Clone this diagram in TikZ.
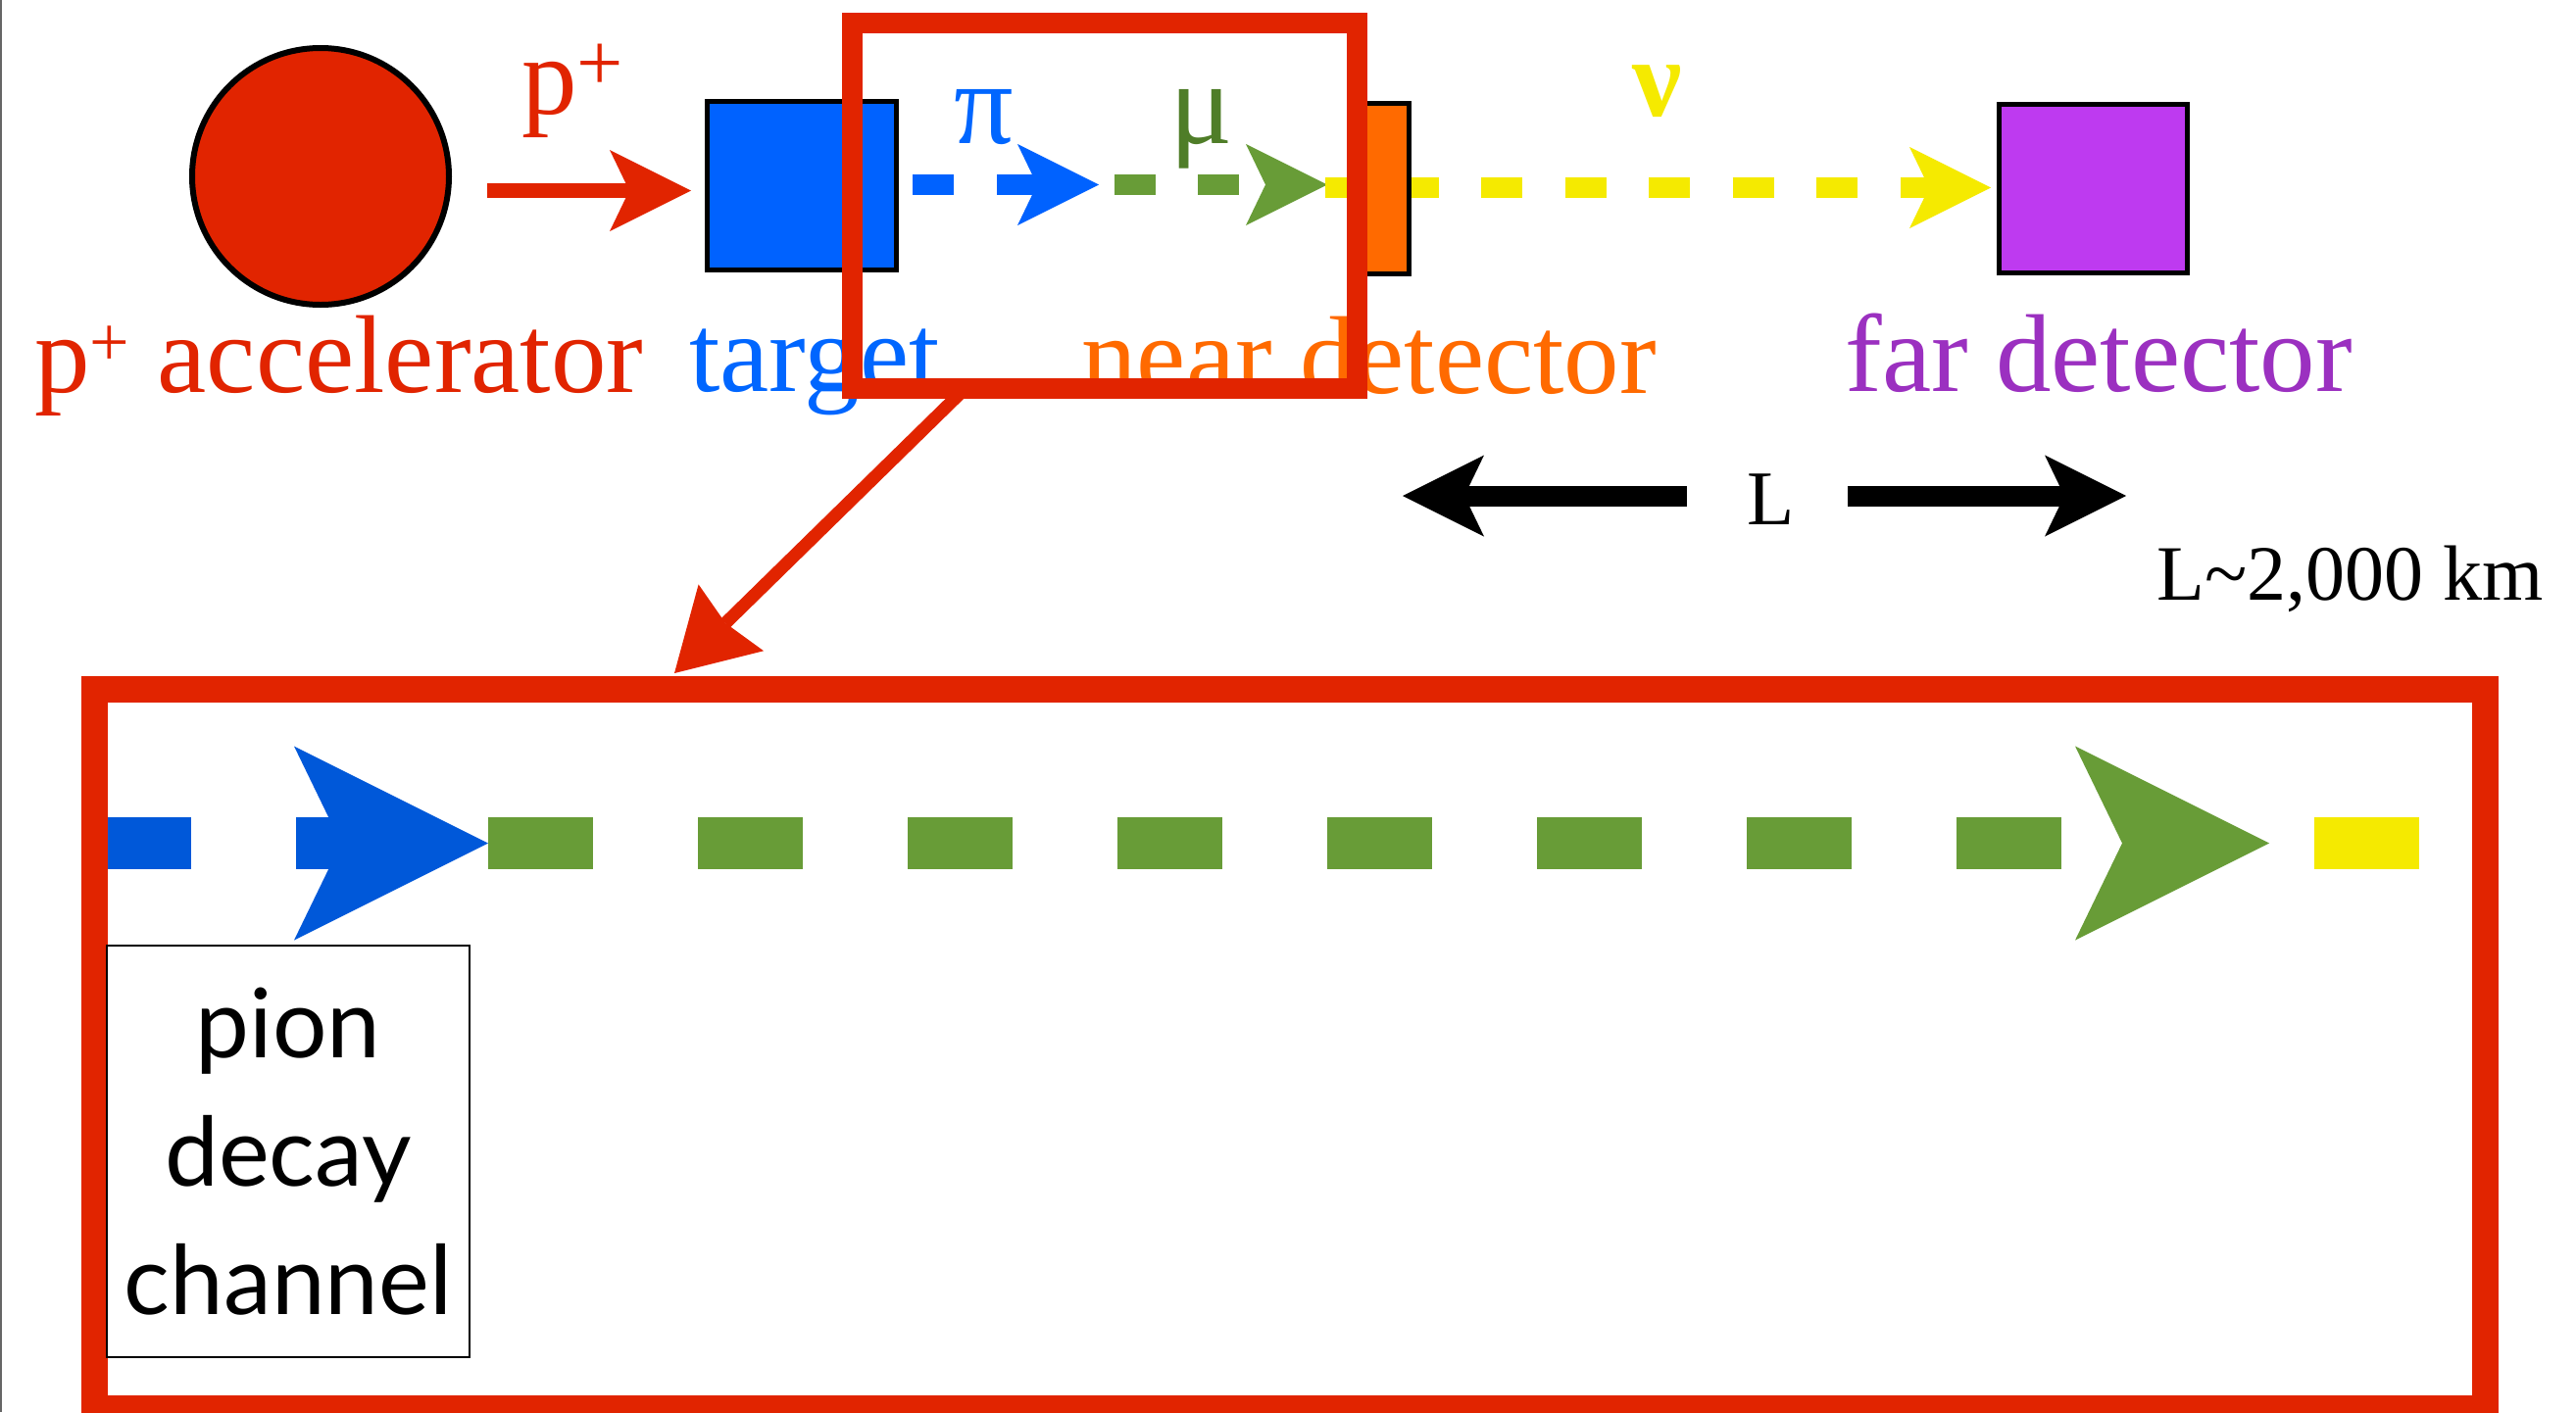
\documentclass[tikz,border=0pt]{standalone}
\usepackage{fontspec}
\setmainfont{Liberation Serif}
\newfontfamily\gillfont{Lato}
\usetikzlibrary{arrows.meta}
\definecolor{cred}{HTML}{E12400}
\definecolor{cblue}{HTML}{0062FF}
\definecolor{cbluetxt}{HTML}{0066FF}
\definecolor{cbluedark}{HTML}{0058D9}
\definecolor{cgreen}{HTML}{689C37}
\definecolor{cgreentxt}{HTML}{4F7D28}
\definecolor{cyellow}{HTML}{F5EA00}
\definecolor{corange}{HTML}{FF6A00}
\definecolor{cpurple}{HTML}{BE3AF0}
\definecolor{cpurpletxt}{HTML}{9B30C0}
\newcommand\supplus{\raisebox{12pt}{\fontsize{42}{42}\selectfont +}}
\newcommand\supplussmall{\raisebox{13.5pt}{\fontsize{36}{36}\selectfont +}}
\begin{document}
\begin{tikzpicture}[x=0.5pt,y=-0.5pt,
  lbl/.style={anchor=base west, inner sep=0pt, font=\fontsize{56.5}{60}\selectfont},
  dev/.style={draw=black, line width=2.5pt, inner sep=0pt},
  smallhead/.style={-{Stealth[length=41.5pt,width=41.5pt,inset=10pt,line width=0pt]}},
  bighead/.style={-{Stealth[length=99pt,width=99pt,inset=24pt,line width=0pt]}},
  topconn/.style={line width=10.5pt, smallhead},
  bigconn/.style={line width=26.5pt, bighead, dash pattern=on 53.5pt off 53.5pt},
  frame/.style={draw=cred, inner sep=0pt}
]
\useasboundingbox (0,0) rectangle (2628,1441);
\fill[white] (0,0) rectangle (2628,1441);
\draw[black!60, line width=1pt] (1,0) -- (1,1441);

% devices
\node[circle, draw=black, line width=3pt, fill=cred, minimum size=131pt, inner sep=0pt] (acc) at (327,180) {};
\node[dev, fill=cblue, minimum width=96.5pt, minimum height=86pt] (target) at (818,189.5) {};

% top connectors
\coordinate (p1) at (497,194.5);
\coordinate (p2) at (705,194.5);
\draw[cred, line width=7.5pt, smallhead] (p1) -- (p2);

\coordinate (pi1) at (931,188.5);
\coordinate (pi2) at (1121,188.5);
\draw[topconn, cblue, dash pattern=on 21pt off 22pt] (pi1) -- (pi2);

\coordinate (mu1) at (1137,188.5);
\coordinate (mu2) at (1354,188.5);
\draw[topconn, cgreen, dash pattern=on 21pt off 21.5pt] (mu1) -- (mu2);

\coordinate (nu1) at (1352,191.5);
\coordinate (nu2) at (2031,191.5);
\draw[topconn, cyellow, dash pattern=on 21pt off 21.75pt, dash phase=6pt] (nu1) -- (nu2);

\node[dev, fill=corange, minimum width=27.5pt, minimum height=87pt] (near) at (1410,192.5) {};
\node[dev, fill=cpurple, minimum width=96pt, minimum height=86pt] (far) at (2135.5,192.5) {};

% labels
\node[lbl, text=cred] (acclbl) at (35,400) {p\supplussmall{} accelerator};
\node[lbl, text=cbluetxt] (tgtlbl) at (703,399) {target};
\node[lbl, text=corange] (nearlbl) at (1103,401) {near detector};
\node[lbl, text=cpurpletxt] (farlbl) at (1882,399) {far detector};
\node[lbl, text=cred] (plbl) at (532,116) {p\supplus};
\node[lbl, text=cbluetxt, font=\fontsize{60}{60}\selectfont] (pilbl) at (973,146) {π};
\node[lbl, text=cgreentxt, font=\fontsize{60}{60}\selectfont] (mulbl) at (1193,146) {μ};
\node[lbl, text=cyellow, font=\fontsize{56.5}{60}\selectfont\bfseries] (nulbl) at (1665,118) {ν};

% baseline length
\node[anchor=base west, inner sep=0pt, font=\fontsize{39.5}{40}\selectfont] (Llbl) at (1782,535) {L};
\coordinate (La1) at (1721,506);
\coordinate (La2) at (1431,506);
\coordinate (Lb1) at (1885,506);
\coordinate (Lb2) at (2169,506);
\draw[black, line width=10.5pt, smallhead] (La1) -- (La2);
\draw[black, line width=10.5pt, smallhead] (Lb1) -- (Lb2);
\node[anchor=base west, inner sep=0pt, font=\fontsize{40}{42}\selectfont] (Ldist) at (2200,612) {L\textasciitilde2,000 km};

% zoom frame
\node[frame, line width=10.5pt, minimum width=257.5pt, minimum height=186.5pt] (zoombox) at (1127,210) {};

% enlarged view
\coordinate (b1) at (88,860.5);
\coordinate (b2) at (498,860.5);
\draw[bigconn, cbluedark] (b1) -- (b2);
\coordinate (g2) at (2315,860.5);
\draw[bigconn, cgreen] (b2) -- (g2);
\coordinate (y1) at (2361,860.5);
\coordinate (y2) at (2560,860.5);
\draw[cyellow, line width=26.5pt, dash pattern=on 53.5pt off 53.5pt] (y1) -- (y2);

\node[frame, line width=13.5pt, minimum width=1219.5pt, minimum height=367pt] (bigbox) at (1315.5,1070) {};

\node[draw=black, line width=1pt, minimum width=185pt, minimum height=210pt, inner sep=0pt, align=center,
      font=\gillfont\fontsize{49}{65.5}\selectfont] (pdc) at (294,1175) {pion\\decay\\channel};

% zoom arrow
\coordinate (dstart) at (983,398);
\coordinate (dend) at (688,687);
\draw[cred, line width=6.5pt, -{Stealth[length=40.5pt,width=47.5pt,inset=4pt,line width=0pt]}] (dstart) -- (dend);
\end{tikzpicture}
\end{document}
